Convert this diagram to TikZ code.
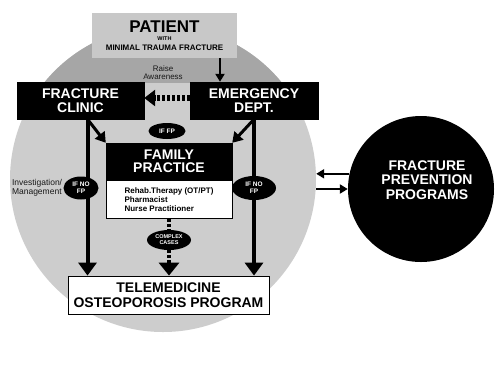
\documentclass[tikz,border=0pt]{standalone}
\usepackage{fontspec}
\setmainfont{Liberation Sans}
\usetikzlibrary{arrows.meta, calc, shapes.geometric}
\definecolor{capgray}{RGB}{166,166,166}
\definecolor{discgray}{RGB}{205,205,205}
\definecolor{patgray}{RGB}{200,200,200}

\begin{document}
\begin{tikzpicture}[x=1pt, y=-1pt, line join=miter,
	blackbox/.style={draw=black, fill=black, text=white, align=center, inner sep=0pt},
	whitebox/.style={draw=black, line width=0.8pt, fill=white, align=center, inner sep=0pt},
	tag/.style={ellipse, fill=black, text=white, align=center, inner sep=0pt,
		font=\fontsize{6.5}{7}\selectfont\bfseries},
	bigarr/.style={line width=4pt, -{Triangle[width=18pt,length=13pt]}},
	midarr/.style={line width=3pt, -{Triangle[width=12pt,length=10pt]}},
	smallarr/.style={line width=2.5pt, -{Triangle[width=9pt,length=8pt]}},
	dashline/.style={dash pattern=on 3pt off 2pt}]
	
	\useasboundingbox (0,0) rectangle (500,368);
	
	%========================
	% grey disc behind the services
	%========================
	\node[circle, fill=discgray, minimum size=306pt, inner sep=0pt] (disc) at (163,179) {};
	\begin{scope}
		\clip (0,0) rectangle (500,82);
		\fill[capgray] (disc.center) circle (153pt);
	\end{scope}
	
	%========================
	% boxes
	%========================
	\node[fill=patgray, minimum width=145pt, minimum height=45pt, inner sep=0pt, align=center,
	font=\fontsize{8}{9}\selectfont\bfseries] (patient) at (164.5,35.5)
	{{\fontsize{17}{17}\selectfont PATIENT}\\[-1.5pt]{\fontsize{5.5}{6}\selectfont WITH}\\[1pt]MINIMAL TRAUMA FRACTURE};
	
	\node[blackbox, minimum width=127pt, minimum height=37pt,
	font=\fontsize{14}{14}\selectfont\bfseries] (clinic) at (80.5,100.5) {FRACTURE\\CLINIC};
	\node[blackbox, minimum width=128pt, minimum height=37pt,
	font=\fontsize{14}{14}\selectfont\bfseries] (ed) at (254,100.5) {EMERGENCY\\DEPT.};
	
	\node[blackbox, minimum width=126pt, minimum height=37pt,
	font=\fontsize{14}{13}\selectfont\bfseries] (fp) at (169,161.5) {FAMILY\\PRACTICE};
	\node[whitebox, minimum width=126pt, minimum height=38pt, anchor=north, align=left,
	font=\fontsize{8}{9}\selectfont\bfseries] (staff) at (fp.south)
	{Rehab.Therapy (OT/PT)\\Pharmacist\\Nurse Practitioner};
	
	\node[whitebox, minimum width=201pt, minimum height=38pt,
	font=\fontsize{14}{15.5}\selectfont\bfseries] (tele) at (168.5,295)
	{TELEMEDICINE\\OSTEOPOROSIS PROGRAM};
	
	\node[circle, fill=black, minimum size=146pt, inner sep=0pt,
	label={[text=white, align=center, xshift=6pt, yshift=9pt,
		font=\fontsize{14}{14.3}\selectfont\bfseries]center:FRACTURE\\PREVENTION\\PROGRAMS}]
	(fpp) at (421,189) {};
	
	\node[align=center, text=black!90, font=\fontsize{8}{8.5}\selectfont] (raise) at (163,72.5) {Raise\\Awareness};
	
	%========================
	% connectors
	%========================
	\coordinate (clinicfoot) at ($(clinic.south west)!0.555!(clinic.south east)$);
	\coordinate (edfoot) at ($(ed.south west)!0.5!(ed.south east)$);
	
	% patient arrives at emergency
	\draw[smallarr] ([xshift=-34pt]ed.north |- patient.south) -- ([xshift=-34pt]ed.north);
	% raise awareness
	\draw[line width=6pt, dashline, -{Triangle[width=16pt,length=11pt]}]
	([yshift=2.5pt]ed.west) -- ([yshift=2.5pt]clinic.east);
	
	% to family practice
	\draw[midarr] (clinicfoot) -- (fp.north west);
	\draw[midarr] (edfoot) -- (fp.north east);
	
	% straight to telemedicine
	\draw[bigarr] (clinicfoot) -- (clinicfoot |- tele.north);
	\draw[bigarr] (edfoot) -- (edfoot |- tele.north);
	
	% tags on the paths
	\node[tag, minimum width=37pt, minimum height=16pt] (iffp) at (167,131) {IF FP};
	\node[tag, minimum width=35pt, minimum height=23pt] (ifnoleft) at (81,188) {IF NO\\FP};
	\node[tag, minimum width=44pt, minimum height=24pt] (ifnoright) at (254,188) {IF NO\\FP};
	\node[tag, minimum width=44pt, minimum height=20pt,
	font=\fontsize{5.5}{6}\selectfont\bfseries] (complex) at (169,240) {COMPLEX\\CASES};
	
	\node[anchor=east, align=left, inner sep=1pt, text=black!90,
	font=\fontsize{8.5}{9}\selectfont] (invest) at (ifnoleft.west) {Investigation/\\Management};
	
	% complex cases
	\draw[line width=4pt, dashline] (staff.south) -- (complex.north);
	\draw[line width=4pt, dashline, -{Triangle[width=20pt,length=13pt]}]
	(complex.south) -- (complex.south |- tele.north);
	
	% prevention programs
	\draw[smallarr] (fpp.168) -- (fpp.168 -| disc.east);
	\draw[smallarr] (disc.east |- fpp.west) -- (fpp.west);
	
\end{tikzpicture}
\end{document}
